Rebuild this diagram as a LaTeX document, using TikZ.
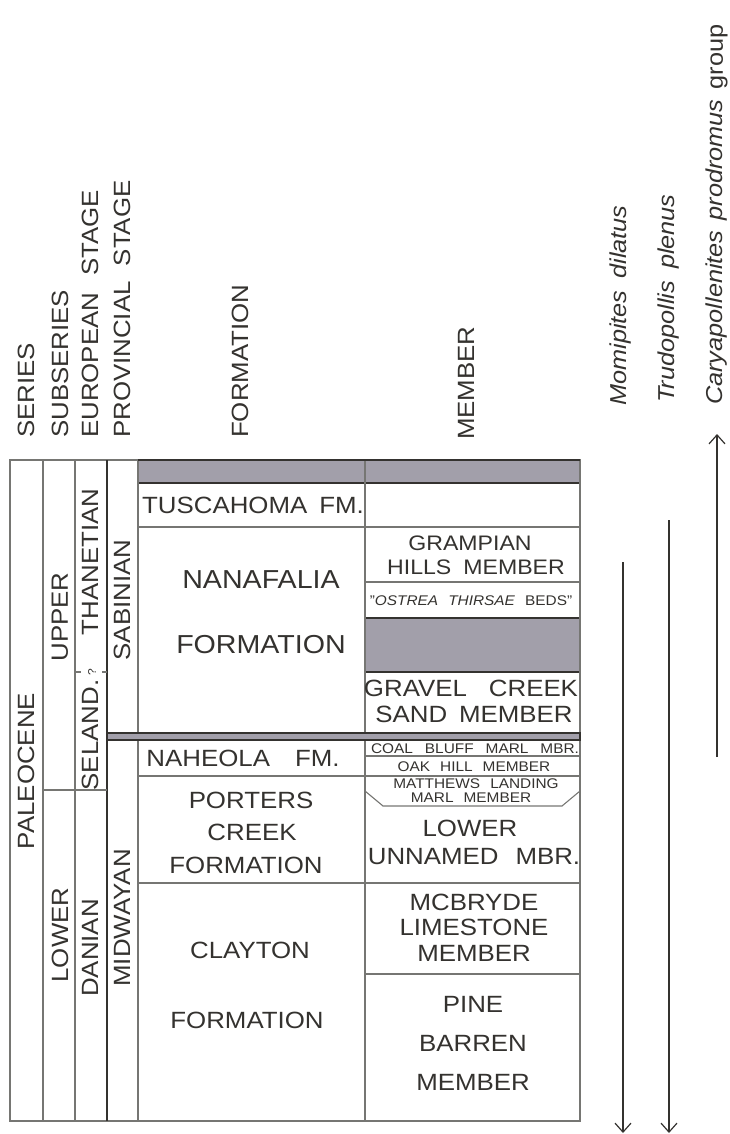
\documentclass[tikz,border=0pt]{standalone}
\usepackage{fontspec}
\setmainfont{Liberation Sans}[FakeStretch=1.1]
\usetikzlibrary{arrows.meta}
\definecolor{ink}{RGB}{52,50,47}
\definecolor{rulegray}{RGB}{118,118,115}
\definecolor{band}{RGB}{162,159,170}
\newcommand\wg[1]{\hspace{#1pt}}
\begin{document}
\begin{tikzpicture}[x=1pt,y=-1pt,
  lbl/.style={text=ink, inner sep=0pt, font=\fontsize{23.5}{27}\selectfont},
  big/.style={text=ink, inner sep=0pt, font=\fontsize{26}{30}\selectfont},
  mid/.style={text=ink, inner sep=0pt, font=\fontsize{21}{25}\selectfont},
  small/.style={text=ink, inner sep=0pt, font=\fontsize{14}{16}\selectfont},
  vlbl/.style={lbl, rotate=90},
  head/.style={vlbl, anchor=west},
  taxon/.style={text=ink, inner sep=0pt, rotate=90, anchor=west, font=\fontsize{23}{27}\selectfont\itshape},
  grid/.style={draw=rulegray, line width=1.1pt},
  dark/.style={draw=ink, line width=1.2pt},
  bandbox/.style={dark, fill=band},
  rangeline/.style={draw=ink, line width=1.2pt},
  rangearrow/.style={rangeline, -{Straight Barb[length=9pt,width=16pt,line width=1.2pt]}}
]
\useasboundingbox (0,0) rectangle (730,1134);

% ---- column headings
\node[head] (hSeries) at (26,438) {SERIES};
\node[head] (hSub) at (60,438) {SUBSERIES};
\node[head] (hEuro) at (90,438) {EUROPEAN\wg{17}STAGE};
\node[head] (hProv) at (122,438) {PROVINCIAL\wg{15}STAGE};
\node[head] (hForm) at (240,438) {FORMATION};
\node[head] (hMem) at (466,440) {MEMBER};

% ---- pollen taxa headings
\node[taxon] (tMom) at (621,406) {Momipites\wg{12}dilatus};
\node[taxon] (tTru) at (669,403) {Trudopollis\wg{12}plenus};
\node[taxon] (tCar) at (717,405) {Caryapollenites\wg{10}prodromus\wg{10}\upshape group};

% ---- shaded intervals
\draw[bandbox] (138,460) rectangle (580,483);
\draw[bandbox] (365,618) rectangle (580,672);

% ---- frame and column rules
\draw[grid] (10,460) rectangle (580,1121);
\draw[grid] (43,460) -- (43,1121);
\draw[grid] (75,460) -- (75,1121);
\draw[dark] (107,460) -- (107,1121);
\draw[grid] (138,460) -- (138,1121);
\draw[grid] (365,460) -- (365,1121);
\draw[dark] (138,460) -- (580,460);

% ---- horizontal boundaries
\draw[grid] (43,790) -- (107,790);
\draw[grid] (138,527) -- (580,527);
\draw[grid] (365,582) -- (580,582);
\draw[grid] (365,756) -- (580,756);
\draw[grid] (138,776) -- (580,776);
\draw[grid] (365,791) -- (383,806) -- (562,806) -- (580,791);
\draw[grid] (138,883) -- (580,883);
\draw[grid] (365,974) -- (580,974);
\draw[bandbox] (107,733) rectangle (580,740);

% ---- uncertain Selandian/Thanetian boundary
\draw[grid] (76,672) -- (81,672);
\draw[grid] (102,672) -- (107,672);
\node[text=ink, inner sep=0pt, rotate=90, font=\fontsize{11}{12}\selectfont] (qmark) at (92,672) {?};

% ---- series / subseries / stages
\node[vlbl] (paleo) at (26,771) {PALEOCENE};
\node[vlbl] (upper) at (60,617) {UPPER};
\node[vlbl] (lower) at (60,935) {LOWER};
\node[vlbl] (than) at (90,562) {THANETIAN};
\node[vlbl] (seland) at (90,735) {SELAND.};
\node[vlbl] (danian) at (90,948) {DANIAN};
\node[vlbl] (sabin) at (122,600) {SABINIAN};
\node[vlbl] (midway) at (122,918) {MIDWAYAN};

% ---- formations
\node[lbl] (tusc) at (253,505) {TUSCAHOMA\wg{12}FM.};
\node[big] (nana1) at (261,580) {NANAFALIA};
\node[big] (nana2) at (261,645) {FORMATION};
\node[lbl] (nahe) at (243,758) {NAHEOLA\wg{25}FM.};
\node[lbl] (port1) at (251,800) {PORTERS};
\node[lbl] (port2) at (252,832) {CREEK};
\node[lbl] (port3) at (246,865) {FORMATION};
\node[lbl] (clay1) at (250,950) {CLAYTON};
\node[lbl] (clay2) at (247,1020) {FORMATION};

% ---- members
\node[mid] (gram1) at (470,543) {GRAMPIAN};
\node[mid] (gram2) at (476,567) {HILLS\wg{12}MEMBER};
\node[small] (ostr) at (471,601) {"\textit{OSTREA}\wg{10}\textit{THIRSAE}\wg{10}BEDS"};
\node[lbl] (grav1) at (471,688) {GRAVEL\wg{22}CREEK};
\node[lbl] (grav2) at (474,714) {SAND\wg{12}MEMBER};
\node[small] (coal) at (475,749) {COAL\wg{12}BLUFF\wg{12}MARL\wg{12}MBR.};
\node[small] (oak) at (474,767) {OAK\wg{10}HILL\wg{10}MEMBER};
\node[small] (matt1) at (476,784) {MATTHEWS\wg{10}LANDING};
\node[small] (matt2) at (471,798) {MARL\wg{10}MEMBER};
\node[lbl] (low1) at (470,828) {LOWER};
\node[lbl] (low2) at (474,857) {UNNAMED\wg{17}MBR.};
\node[lbl] (mcb1) at (474,902) {MCBRYDE};
\node[lbl] (mcb2) at (474,927) {LIMESTONE};
\node[lbl] (mcb3) at (474,953) {MEMBER};
\node[lbl] (pine1) at (473,1004) {PINE};
\node[lbl] (pine2) at (473,1043) {BARREN};
\node[lbl] (pine3) at (473,1082) {MEMBER};

% ---- stratigraphic ranges
\coordinate (momTop) at (623,562);
\coordinate (momEnd) at (623,1133);
\coordinate (truTop) at (669,520);
\coordinate (truEnd) at (669,1133);
\coordinate (carBase) at (717,757);
\coordinate (carTip) at (717,434);
\draw[rangearrow] (momTop) -- (momEnd);
\draw[rangearrow] (truTop) -- (truEnd);
\draw[rangearrow] (carBase) -- (carTip);
\end{tikzpicture}
\end{document}
